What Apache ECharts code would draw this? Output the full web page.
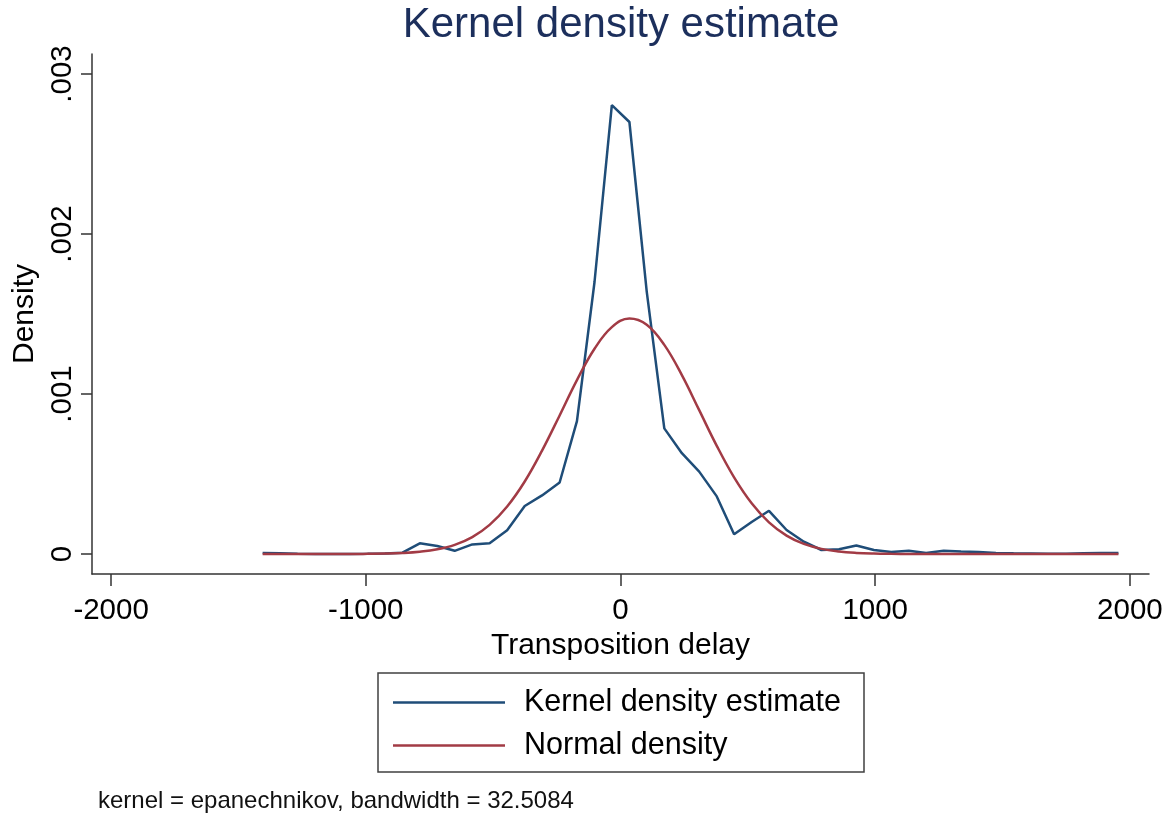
<!DOCTYPE html>
<html>
<head>
<meta charset="utf-8">
<script src="https://cdn.jsdelivr.net/npm/echarts@6/dist/echarts.min.js"></script>
<style>
html,body{margin:0;padding:0;background:#fff;}
#chart{width:1173px;height:814px;}
</style>
</head>
<body>
<div id="chart"></div>
<script>
// Evaluation grid (Transposition delay)
var gridX = [-1405,-1336,-1268,-1199,-1131,-1062,-993,-925,-856,-788,-719,-651,-582,-514,-445,-376,-308,-239,-171,-102,-34,35,103,172,241,309,378,446,515,583,652,720,789,858,926,995,1063,1132,1200,1269,1337,1406,1474,1543,1612,1680,1749,1817,1886,1955];

// Kernel density estimate values
var kdeValues = [0.000006,0.000005,0.000001,0,0,0,0.000001,0.000003,0.000008,0.000067,0.00005,0.00002,0.00006,0.000067,0.000148,0.0003,0.000366,0.000447,0.00083,0.0017,0.002806,0.0027,0.00164,0.000785,0.00063,0.000515,0.00036,0.000123,0.0002,0.00027,0.00015,0.000077,0.000025,0.00003,0.000053,0.000025,0.000013,0.00002,0.000006,0.00002,0.000015,0.000013,0.000006,0.000004,0.000003,0.000002,0.000002,0.000004,0.000006,0.000006];

// Normal density values
var normalValues = [0,0,0,0,0,0,0.000001,0.0000026,0.0000062,0.0000139,0.0000291,0.000057,0.0001057,0.000182,0.000297,0.000453,0.000646,0.000866,0.001087,0.001283,0.001418,0.001472,0.001433,0.001307,0.001118,0.000899,0.000676,0.000479,0.000317,0.000198,0.000115,0.000063,0.000032,0.0000155,0.000007,0.0000029,0.0000012,0.0000005,0,0,0,0,0,0,0,0,0,0,0,0];

var seriesNames = ['Kernel density estimate', 'Normal density'];
var xTickValues = [-2000, -1000, 0, 1000, 2000];
var xTickLabels = ['-2000', '-1000', '0', '1000', '2000'];
var yTickValues = [0, 0.001, 0.002, 0.003];
var yTickLabels = ['0', '.001', '.002', '.003'];
var titleText = 'Kernel density estimate';
var noteText = 'kernel = epanechnikov, bandwidth = 32.5084';
var xName = 'Transposition delay';
var yName = 'Density';

function pairs(xs, ys) { return xs.map(function (x, i) { return [x, ys[i]]; }); }
function fmt(values, labels) {
  return function (v) {
    for (var i = 0; i < values.length; i++) { if (Math.abs(values[i] - v) < 1e-9 * Math.max(1, Math.abs(values[i]))) return labels[i]; }
    return '';
  };
}

var FONT = '"Liberation Sans", Arial, Helvetica, sans-serif';
var chart = echarts.init(document.getElementById('chart'), null, {renderer: 'canvas'});
chart.setOption({
  animation: false,
  backgroundColor: '#ffffff',
  textStyle: {fontFamily: FONT},
  title: [
    {text: titleText, left: 621, top: 4, textAlign: 'center', padding: 0,
     textStyle: {fontFamily: FONT, fontSize: 42, fontWeight: 'normal', color: '#1c2f5c'}},
    {text: noteText, left: 98, top: 789, padding: 0,
     textStyle: {fontFamily: FONT, fontSize: 24, fontWeight: 'normal', color: '#111111'}}
  ],
  grid: {left: 92, right: 24, top: 54, bottom: 240, containLabel: false, outerBoundsMode: 'none'},
  xAxis: {
    type: 'value', min: -2075, max: 2075,
    name: xName, nameLocation: 'middle', nameGap: 51,
    nameTextStyle: {fontFamily: FONT, fontSize: 30, color: '#000'},
    splitLine: {show: false},
    axisLine: {onZero: false, lineStyle: {color: '#333', width: 1.5}},
    axisTick: {customValues: xTickValues, length: 12, lineStyle: {color: '#333', width: 1.5}},
    axisLabel: {customValues: xTickValues, formatter: fmt(xTickValues, xTickLabels), margin: 22,
                fontFamily: FONT, fontSize: 29.5, color: '#000'}
  },
  yAxis: {
    type: 'value', min: -0.000125, max: 0.003125,
    name: yName, nameLocation: 'middle', nameGap: 52, nameRotate: 90,
    nameTextStyle: {fontFamily: FONT, fontSize: 30, color: '#000'},
    splitLine: {show: false},
    axisLine: {onZero: false, lineStyle: {color: '#333', width: 1.5}},
    axisTick: {customValues: yTickValues, length: 11, lineStyle: {color: '#333', width: 1.5}},
    axisLabel: {customValues: yTickValues, formatter: fmt(yTickValues, yTickLabels), margin: 14, rotate: 90,
                fontFamily: FONT, fontSize: 29.5, color: '#000'}
  },
  legend: {
    orient: 'vertical', left: 393, top: 687, padding: 0,
    icon: 'rect', itemWidth: 112, itemHeight: 2.5, itemGap: 12,
    data: seriesNames,
    textStyle: {fontFamily: FONT, fontSize: 30.5, lineHeight: 30, color: '#000', padding: [0, 0, 0, 14]}
  },
  graphic: [{
    type: 'rect', shape: {x: 378, y: 673, width: 486, height: 99},
    style: {fill: 'none', stroke: '#404040', lineWidth: 1.5}, silent: true
  }],
  series: [
    {name: seriesNames[0], type: 'line', data: pairs(gridX, kdeValues), symbol: 'none', smooth: false,
     lineStyle: {color: '#1f4d78', width: 2.5}, itemStyle: {color: '#1f4d78'}},
    {name: seriesNames[1], type: 'line', data: pairs(gridX, normalValues), symbol: 'none', smooth: 0.4,
     lineStyle: {color: '#a23b45', width: 2.5}, itemStyle: {color: '#a23b45'}}
  ]
});
</script>
</body>
</html>
